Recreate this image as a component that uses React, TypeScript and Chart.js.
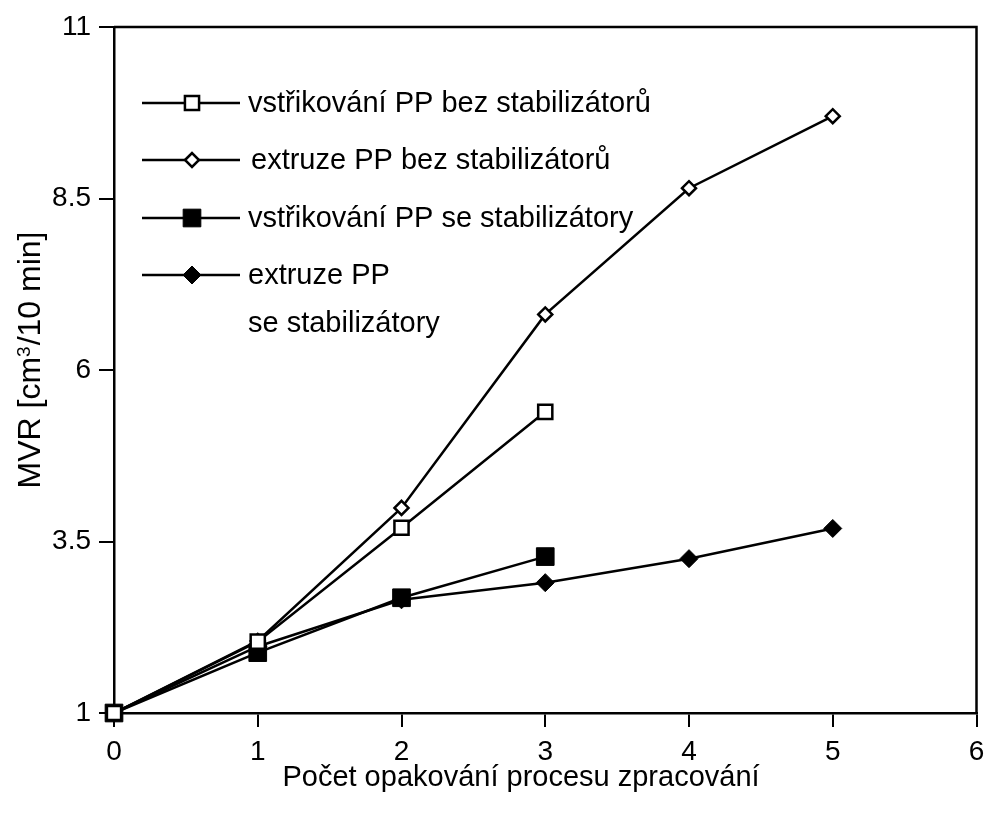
import React, { useEffect, useRef } from "react";
import { Chart, registerables } from "chart.js";

Chart.register(...registerables);

const cycles = [0, 1, 2, 3, 4, 5];
const yTicks = [1, 3.5, 6, 8.5, 11];
const xTicks = [0, 1, 2, 3, 4, 5, 6];

const injectionNoStab = [1, 2.04, 3.7, 5.39];
const extrusionNoStab = [1, 2.05, 3.99, 6.81, 8.65, 9.7];
const injectionStab = [1, 1.88, 2.68, 3.28];
const extrusionStab = [1, 1.97, 2.65, 2.9, 3.25, 3.69];

const seriesLabels = [
  "vstřikování PP bez stabilizátorů",
  "extruze PP bez stabilizátorů",
  "vstřikování PP se stabilizátory",
  "extruze PP",
];
const extraLegendLine = "se stabilizátory";

const xTitle = "Počet opakování procesu zpracování";
const yTitleParts = ["MVR [cm", "3", "/10 min]"];

const FONT = "'Liberation Sans', Arial, Helvetica, sans-serif";

function toPoints(vals: number[]) {
  return vals.map((v, i) => ({ x: cycles[i], y: v }));
}

function drawMarker(ctx: CanvasRenderingContext2D, style: string, r: number, x: number, y: number, fill: string, bw: number) {
  ctx.save();
  ctx.beginPath();
  if (style === "rect") {
    const s = r * Math.SQRT1_2;
    ctx.rect(x - s, y - s, 2 * s, 2 * s);
  } else {
    ctx.moveTo(x - r, y);
    ctx.lineTo(x, y - r);
    ctx.lineTo(x + r, y);
    ctx.lineTo(x, y + r);
    ctx.closePath();
  }
  ctx.fillStyle = fill;
  ctx.fill();
  ctx.lineWidth = bw;
  ctx.strokeStyle = "#000";
  ctx.stroke();
  ctx.restore();
}

const framePlugin = {
  id: "frameAndLegend",
  afterDraw(chart: any) {
    const { ctx, chartArea } = chart;
    ctx.save();
    // top and right frame
    ctx.strokeStyle = "#000";
    ctx.lineWidth = 2.5;
    ctx.beginPath();
    ctx.moveTo(chartArea.left, chartArea.top);
    ctx.lineTo(chartArea.right, chartArea.top);
    ctx.lineTo(chartArea.right, chartArea.bottom);
    ctx.stroke();

    // legend
    const rows = [103, 160, 218, 275];
    chart.data.datasets.forEach((ds: any, i: number) => {
      const y = rows[i];
      ctx.beginPath();
      ctx.lineWidth = 2.5;
      ctx.strokeStyle = "#000";
      ctx.moveTo(142, y);
      ctx.lineTo(240, y);
      ctx.stroke();
      drawMarker(ctx, ds.pointStyle, ds.pointRadius, 192, y, ds.pointBackgroundColor, ds.pointBorderWidth);
      ctx.fillStyle = "#000";
      ctx.font = `29px ${FONT}`;
      ctx.textAlign = "left";
      ctx.textBaseline = "middle";
      ctx.fillText(ds.label, i === 1 ? 251 : 248, y + 1);
    });
    ctx.fillText(extraLegendLine, 248, 324);

    // x axis title
    ctx.font = `29px ${FONT}`;
    ctx.textAlign = "center";
    ctx.textBaseline = "middle";
    ctx.fillText(xTitle, 521, 778);

    // y axis title with superscript
    const mainFont = `32px ${FONT}`;
    const supFont = `19px ${FONT}`;
    ctx.font = mainFont;
    const w0 = ctx.measureText(yTitleParts[0]).width;
    const w2 = ctx.measureText(yTitleParts[2]).width;
    ctx.font = supFont;
    const w1 = ctx.measureText(yTitleParts[1]).width + 1;
    const total = w0 + w1 + w2;
    ctx.translate(40, 360);
    ctx.rotate(-Math.PI / 2);
    ctx.textAlign = "left";
    ctx.textBaseline = "alphabetic";
    let x = -total / 2;
    ctx.font = mainFont;
    ctx.fillText(yTitleParts[0], x, 0);
    x += w0;
    ctx.font = supFont;
    ctx.fillText(yTitleParts[1], x, -10);
    x += w1;
    ctx.font = mainFont;
    ctx.fillText(yTitleParts[2], x, 0);
    ctx.restore();
  },
};

const zeroPad = () => ({ left: 0, top: 0, right: 0, bottom: 0 });

export default function App() {
  const ref = useRef<HTMLCanvasElement | null>(null);
  useEffect(() => {
    document.body.style.margin = "0";
    const canvas = ref.current!;
    const mk = (label: string, vals: number[], style: string, r: number, fill: string, bw: number) => ({
      label,
      data: toPoints(vals),
      borderColor: "#000",
      borderWidth: 2.5,
      tension: 0,
      fill: false,
      clip: false,
      pointStyle: style,
      pointRadius: r,
      pointHoverRadius: r,
      pointBackgroundColor: fill,
      pointBorderColor: "#000",
      pointBorderWidth: bw,
    });
    const chart = new Chart(canvas, {
      type: "line",
      data: {
        datasets: [
          mk(seriesLabels[0], injectionNoStab, "rect", 10, "#fff", 2.5),
          mk(seriesLabels[1], extrusionNoStab, "rectRot", 7, "#fff", 2.5),
          mk(seriesLabels[2], injectionStab, "rect", 12.5, "#000", 1),
          mk(seriesLabels[3], extrusionStab, "rectRot", 9, "#000", 1),
        ] as any,
      },
      options: {
        animation: false,
        responsive: false,
        devicePixelRatio: 1,
        events: [],
        layout: { padding: { top: 27, right: 6, left: 0, bottom: 0 } },
        plugins: { legend: { display: false }, tooltip: { enabled: false }, title: { display: false } },
        scales: {
          x: {
            type: "linear",
            min: 0,
            max: 6,
            afterBuildTicks: (s: any) => {
              s.ticks = xTicks.map((v) => ({ value: v }));
            },
            afterFit: (s: any) => {
              s.height = 106;
              s.paddingLeft = 0;
              s.paddingRight = 0;
              s.getPadding = zeroPad;
            },
            ticks: {
              color: "#000",
              font: { family: FONT, size: 28 },
              padding: 8,
              callback: (v: any) => String(v),
              maxRotation: 0,
            },
            grid: { drawOnChartArea: false, drawTicks: true, tickLength: 14, color: "#000", lineWidth: 2 },
            border: { display: true, color: "#000", width: 2.5 },
          },
          y: {
            type: "linear",
            min: 1,
            max: 11,
            afterBuildTicks: (s: any) => {
              s.ticks = yTicks.map((v) => ({ value: v }));
            },
            afterFit: (s: any) => {
              s.width = 114;
              s.paddingTop = 0;
              s.paddingBottom = 0;
              s.getPadding = zeroPad;
            },
            ticks: {
              color: "#000",
              font: { family: FONT, size: 28 },
              padding: 8,
              callback: (v: any) => String(v),
            },
            grid: { drawOnChartArea: false, drawTicks: true, tickLength: 15, color: "#000", lineWidth: 2 },
            border: { display: true, color: "#000", width: 2.5 },
          },
        },
      },
      plugins: [framePlugin],
    } as any);
    return () => chart.destroy();
  }, []);
  return (
    <div style={{ width: 990, height: 819, background: "#fff" }}>
      <canvas ref={ref} width={990} height={819} style={{ display: "block" }} />
    </div>
  );
}
